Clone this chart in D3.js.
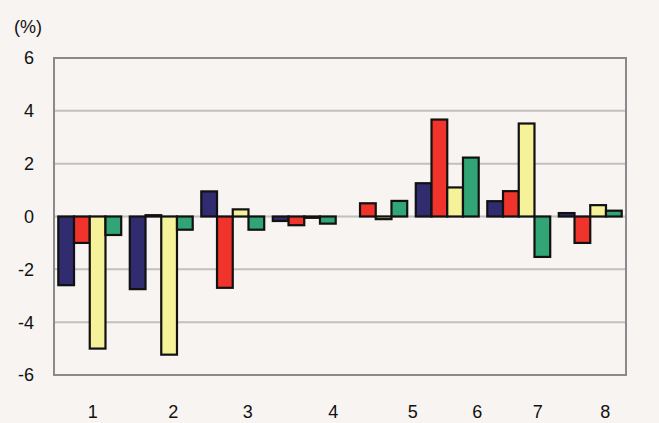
<!DOCTYPE html>
<html>
<head>
<meta charset="utf-8">
<script src="https://cdn.jsdelivr.net/npm/d3@7"></script>
<style>
  body { margin: 0; background: #f7f4f1; }
  text { font-family: "Liberation Sans", Arial, sans-serif; fill: #111; }
</style>
</head>
<body>
<script>
var categories = ["1", "2", "3", "4", "5", "6", "7", "8"];
var seriesNames = ["s1", "s2", "s3", "s4"];
var s1 = [-2.6, -2.75, 0.95, -0.17, null, 1.26, 0.58, 0.13];
var s2 = [-1.0, 0.05, -2.7, -0.33, 0.5, 3.67, 0.96, -1.0];
var s3 = [-5.0, -5.23, 0.27, -0.05, -0.1, 1.1, 3.52, 0.43];
var s4 = [-0.7, -0.5, -0.5, -0.27, 0.59, 2.23, -1.53, 0.22];
var yTicks = [-6, -4, -2, 0, 2, 4, 6];

var width = 659, height = 423;
var margin = { top: 58, right: 33, bottom: 48, left: 54 };
var colors = ["#312b6f", "#f0342b", "#f5f29a", "#31a576"];
// the category labels sit a bit off their groups in the original
var labelNudge = [3, 12, 15, 29, 37, 30, 19, 15];

var svg = d3.select('body').append('svg').attr('width', width).attr('height', height);

var x0 = d3.scaleBand()
    .domain(categories)
    .range([margin.left, width - margin.right])
    .paddingInner(0.12)
    .paddingOuter(0.06);

var x1 = d3.scaleBand()
    .domain(seriesNames)
    .range([0, x0.bandwidth()]);

var y = d3.scaleLinear()
    .domain([-6, 6])
    .range([height - margin.bottom, margin.top]);

// grid lines
svg.append('g').selectAll('line')
    .data(yTicks)
    .enter().append('line')
    .attr('x1', margin.left)
    .attr('x2', width - margin.right)
    .attr('y1', d => y(d))
    .attr('y2', d => y(d))
    .attr('stroke', '#c2c0bf')
    .attr('stroke-width', 2);

var rows = [];
[s1, s2, s3, s4].forEach(function (vals, si) {
    vals.forEach(function (v, ci) {
        if (v !== null) rows.push({ cat: categories[ci], series: seriesNames[si], value: v, i: si });
    });
});

svg.append('g').selectAll('rect')
    .data(rows)
    .enter().append('rect')
    .attr('x', d => x0(d.cat) + x1(d.series))
    .attr('width', x1.bandwidth())
    .attr('y', d => y(Math.max(0, d.value)))
    .attr('height', d => Math.abs(y(d.value) - y(0)))
    .attr('fill', d => colors[d.i])
    .attr('stroke', '#111')
    .attr('stroke-width', 2.2);

// plot border
svg.append('rect')
    .attr('x', margin.left)
    .attr('y', margin.top)
    .attr('width', width - margin.right - margin.left)
    .attr('height', height - margin.bottom - margin.top)
    .attr('fill', 'none')
    .attr('stroke', '#8a898b')
    .attr('stroke-width', 2);

// y labels
svg.append('g').selectAll('text')
    .data(yTicks)
    .enter().append('text')
    .attr('x', 34)
    .attr('y', d => y(d))
    .attr('dy', '0.36em')
    .attr('text-anchor', 'end')
    .attr('font-size', 18)
    .text(d => d);

svg.append('text')
    .attr('x', 28)
    .attr('y', 33)
    .attr('text-anchor', 'middle')
    .attr('font-size', 18)
    .text('(%)');

// x labels
svg.append('g').selectAll('text')
    .data(categories)
    .enter().append('text')
    .attr('x', (d, i) => x0(d) + x0.bandwidth() / 2 + labelNudge[i])
    .attr('y', 418)
    .attr('text-anchor', 'middle')
    .attr('font-size', 18)
    .text(d => d);
</script>
</body>
</html>
